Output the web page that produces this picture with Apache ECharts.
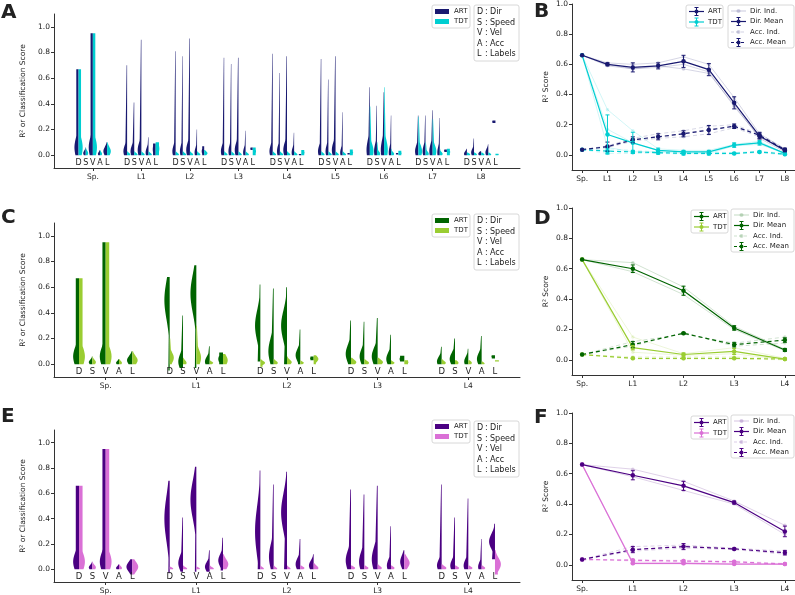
<!DOCTYPE html>
<html><head><meta charset="utf-8">
<script src="https://cdn.jsdelivr.net/npm/echarts/dist/echarts.min.js"></script>
<style>html,body{margin:0;padding:0;background:#fff}#c{width:795px;height:595px}</style>
</head><body><div id="c"></div>
<script>
// ---------------- DATA ----------------
const catsA = ['Sp.','L1','L2','L3','L4','L5','L6','L7','L8'];
const catsCE = ['Sp.','L1','L2','L3','L4'];
const featLetters = ['D','S','V','A','L'];
const yTicks = [0,0.2,0.4,0.6,0.8,1.0];

// half-violin: [lo, hi, peakY, relWidth, spread, floor]
const sm = [0,0.03,0.005,0.8,0.012];
const A_ART = [
 [[0,0.67,0.06,1.0,0.08,0.55],[0,0.06,0.015,0.6,0.02],[0,0.95,0.06,1.0,0.08,0.55],[0,0.04,0.01,0.5,0.015],[0,0.10,0.03,0.9,0.035]],
 [[0,0.70,0.03,0.9,0.05],[0,0.41,0.03,0.9,0.05],[0,0.90,0.04,0.9,0.06],[0,0.14,0.02,0.7,0.04],[0,0.09,0.045,0.7,0.05,0.9]],
 [[0,0.81,0.03,0.8,0.05],[0,0.77,0.03,0.7,0.05],[0,0.91,0.04,0.9,0.06],[0,0.20,0.02,0.6,0.04],[0,0.07,0.03,0.6,0.03,0.8]],
 [[0,0.76,0.03,0.8,0.05],[0,0.71,0.03,0.7,0.05],[0,0.76,0.04,0.9,0.06],[0,0.19,0.02,0.6,0.04],[0.04,0.06,0.05,0.6,0.01,0.9]],
 [[0,0.79,0.03,0.8,0.05],[0,0.64,0.03,0.7,0.05],[0,0.77,0.04,0.9,0.06],[0,0.175,0.02,0.6,0.04],[0,0.01,0.005,0.6,0.01,0.9]],
 [[0,0.75,0.03,0.8,0.05],[0,0.59,0.03,0.7,0.05],[0,0.77,0.04,0.9,0.06],[0,0.335,0.02,0.6,0.04],[0.005,0.017,0.01,0.6,0.01,0.9]],
 [[0,0.53,0.04,0.8,0.08],[0,0.385,0.03,0.7,0.06],[0,0.49,0.04,0.8,0.08],[0,0.31,0.02,0.6,0.05],[0.005,0.017,0.01,0.6,0.01,0.9]],
 [[0,0.31,0.03,0.8,0.05],[0,0.31,0.03,0.7,0.05],[0,0.35,0.03,0.8,0.06],[0,0.29,0.02,0.6,0.05],[0.025,0.045,0.035,0.7,0.01,0.9]],
 [[0,0.05,0.01,0.7,0.02],[0,0.13,0.02,0.7,0.03],[0,0.03,0.01,0.7,0.015],[0,0.085,0.02,0.7,0.03],[0.25,0.27,0.26,0.8,0.01,0.9]]
];
const A_TDT = [
 [[0,0.67,0.06,1.0,0.08,0.6],[0,0.06,0.015,0.6,0.02],[0,0.95,0.06,1.0,0.08,0.6],[0,0.04,0.01,0.5,0.015],[0,0.10,0.03,0.9,0.035]],
 [sm,sm,sm,sm,[0,0.10,0.05,0.9,0.05,0.9]],
 [sm,sm,sm,sm,[0,0.04,0.015,0.8,0.015]],
 [sm,sm,sm,sm,[0,0.06,0.03,0.8,0.03,0.9]],
 [sm,sm,sm,sm,[0,0.04,0.02,0.8,0.02,0.9]],
 [sm,sm,sm,sm,[0,0.045,0.02,0.8,0.02,0.9]],
 [[0,0.38,0.03,0.9,0.06],[0,0.10,0.01,0.8,0.02],[0,0.53,0.04,0.9,0.08],[0,0.05,0.01,0.7,0.015],[0,0.035,0.015,0.8,0.015,0.9]],
 [[0,0.30,0.03,0.9,0.05],[0,0.10,0.01,0.8,0.02],[0,0.28,0.03,0.9,0.05],[0,0.05,0.01,0.7,0.015],[0,0.05,0.025,0.8,0.02,0.9]],
 [[0,0.02,0.005,0.8,0.01],[0,0.02,0.005,0.7,0.01],[0,0.02,0.005,0.8,0.01],[0,0.02,0.005,0.7,0.01],[0,0.012,0.006,0.8,0.01,0.9]]
];
const C_ART = [
 [[0,0.67,0.06,1.0,0.08,0.55],[0,0.06,0.015,0.6,0.02],[0,0.95,0.06,1.0,0.08,0.55],[0,0.04,0.01,0.5,0.015],[0,0.10,0.03,0.9,0.035]],
 [[-0.05,0.68,0.5,0.9,0.15,0.25],[-0.03,0.38,0.02,0.8,0.06],[-0.03,0.77,0.55,1.0,0.15,0.25],[0,0.14,0.02,0.8,0.04],[0,0.09,0.04,0.8,0.04,0.8]],
 [[0.02,0.62,0.3,0.9,0.12],[0,0.59,0.1,0.9,0.1],[0,0.60,0.3,1.0,0.12],[0,0.27,0.07,0.8,0.05],[0.03,0.06,0.045,0.6,0.02,0.9]],
 [[0,0.34,0.08,0.9,0.07],[0,0.33,0.06,0.8,0.06],[0,0.36,0.06,1.0,0.07],[0,0.23,0.04,0.8,0.05],[0.02,0.065,0.04,0.8,0.03,0.9]],
 [[0,0.135,0.02,0.8,0.04],[0,0.20,0.04,0.9,0.05],[0,0.12,0.02,0.7,0.04],[0,0.22,0.04,0.8,0.05],[0.045,0.07,0.06,0.6,0.02,0.9]]
];
const C_TDT = [
 [[0,0.67,0.06,1.0,0.08,0.6],[0,0.06,0.015,0.6,0.02],[0,0.95,0.06,1.0,0.08,0.6],[0,0.04,0.01,0.5,0.015],[0,0.10,0.03,0.9,0.035]],
 [[0,0.20,0.05,0.7,0.04],[0,0.05,0.01,0.6,0.02],[0,0.30,0.05,0.8,0.06],[0,0.03,0.01,0.6,0.01],[0,0.08,0.03,0.8,0.04]],
 [[-0.02,0.04,0.01,0.8,0.015],[0,0.04,0.01,0.7,0.015],[0,0.06,0.015,0.8,0.02],[0,0.03,0.01,0.6,0.01],[0,0.07,0.04,0.8,0.025]],
 [[0,0.05,0.015,0.9,0.02],[0,0.04,0.01,0.8,0.015],[0,0.05,0.015,0.9,0.02],[0,0.03,0.01,0.6,0.01],[0,0.03,0.015,0.7,0.015,0.9]],
 [[0,0.04,0.01,0.7,0.015],[0,0.03,0.01,0.6,0.015],[0,0.03,0.01,0.6,0.015],[0,0.02,0.005,0.5,0.01],[0.02,0.03,0.025,0.7,0.01,0.9]]
];
const E_ART = [
 [[0,0.66,0.06,1.0,0.08,0.55],[0,0.06,0.015,0.6,0.02],[0,0.95,0.06,1.0,0.08,0.55],[0,0.04,0.01,0.5,0.015],[-0.04,0.08,0.02,1.0,0.04,0.2]],
 [[-0.03,0.70,0.4,0.9,0.18,0.25],[-0.02,0.41,0.05,0.8,0.06],[-0.02,0.81,0.55,1.0,0.15,0.25],[-0.02,0.15,0.02,0.8,0.04],[-0.01,0.25,0.07,0.8,0.05]],
 [[0,0.78,0.3,0.9,0.2],[0,0.67,0.1,0.8,0.1],[0,0.77,0.45,1.0,0.15],[0,0.24,0.04,0.8,0.05],[0,0.12,0.03,0.8,0.04]],
 [[0,0.63,0.07,0.9,0.08],[0,0.59,0.06,0.9,0.08],[0,0.66,0.08,1.0,0.1],[0,0.34,0.03,0.7,0.05],[0,0.15,0.06,0.7,0.05]],
 [[0,0.67,0.03,0.8,0.05],[0,0.41,0.03,0.8,0.05],[0,0.56,0.03,0.8,0.05],[0,0.24,0.02,0.6,0.04],[0.08,0.36,0.22,1.0,0.06]]
];
const E_TDT = [
 [[0,0.66,0.06,1.0,0.08,0.6],[0,0.06,0.015,0.6,0.02],[0,0.95,0.06,1.0,0.08,0.6],[0,0.04,0.01,0.5,0.015],[-0.04,0.08,0.02,1.0,0.04,0.2]],
 [[0,0.02,0.005,0.6,0.01],[0,0.03,0.005,0.7,0.012],[0,0.02,0.005,0.6,0.01],[0,0.03,0.005,0.7,0.012],[0,0.12,0.04,0.9,0.04]],
 [[0,0.03,0.005,0.6,0.012],[0,0.03,0.005,0.6,0.012],[0,0.03,0.005,0.6,0.012],[0,0.03,0.01,0.7,0.012],[0,0.05,0.01,0.8,0.02]],
 [[0,0.03,0.01,0.7,0.012],[0,0.03,0.01,0.7,0.012],[0,0.04,0.01,0.7,0.015],[0,0.03,0.01,0.6,0.012],[0,0.12,0.05,0.9,0.04]],
 [[0,0.04,0.01,0.8,0.015],[0,0.03,0.01,0.7,0.012],[0,0.03,0.01,0.7,0.012],[0,0.03,0.01,0.6,0.012],[-0.04,0.15,0.04,1.0,0.05]]
];

// line panels
const B_artDirMean = [0.66,0.60,0.58,0.59,0.62,0.565,0.345,0.125,0.03];
const B_artDirErr  = [0,0.01,0.03,0.02,0.04,0.04,0.04,0.02,0.01];
const B_artAccMean = [0.035,0.055,0.10,0.12,0.14,0.165,0.19,0.13,0.035];
const B_artAccErr  = [0,0.03,0.02,0.02,0.02,0.03,0.015,0.02,0.01];
const B_tdtDirMean = [0.66,0.135,0.08,0.03,0.02,0.02,0.065,0.08,0.01];
const B_tdtDirErr  = [0,0.13,0.07,0.015,0.01,0.01,0.015,0.015,0.005];
const B_tdtAccMean = [0.035,0.025,0.02,0.015,0.01,0.01,0.01,0.02,0.005];
const B_tdtAccErr  = [0,0.015,0.01,0.01,0.01,0.01,0.005,0.005,0.005];
const B_artDirInd = [[0.66,0.59,0.57,0.58,0.60,0.55,0.32,0.12,0.03],[0.66,0.61,0.60,0.61,0.65,0.60,0.38,0.14,0.04],[0.66,0.60,0.57,0.59,0.57,0.54,0.33,0.11,0.02]];
const B_artAccInd = [[0.035,0.05,0.09,0.11,0.12,0.14,0.18,0.12,0.03],[0.035,0.06,0.11,0.14,0.16,0.19,0.20,0.14,0.04],[0.035,0.05,0.10,0.12,0.14,0.17,0.19,0.13,0.03]];
const B_tdtDirInd = [[0.66,0.30,0.16,0.04,0.03,0.03,0.07,0.09,0.01],[0.66,0.17,0.08,0.03,0.02,0.02,0.06,0.08,0.01],[0.66,0.05,0.02,0.02,0.01,0.01,0.06,0.07,0.01]];
const B_tdtAccInd = [[0.035,0.04,0.03,0.02,0.02,0.02,0.015,0.025,0.01],[0.035,0.01,0.01,0.01,0.005,0.005,0.005,0.015,0.0]];

const D_artDirMean = [0.66,0.60,0.455,0.21,0.065];
const D_artDirErr  = [0,0.025,0.03,0.015,0.01];
const D_artAccMean = [0.035,0.10,0.175,0.10,0.13];
const D_artAccErr  = [0,0.02,0.005,0.015,0.015];
const D_tdtDirMean = [0.66,0.08,0.035,0.055,0.005];
const D_tdtDirErr  = [0,0.015,0.01,0.02,0.003];
const D_tdtAccMean = [0.035,0.01,0.01,0.01,0.005];
const D_tdtAccErr  = [0,0.003,0.003,0.003,0.002];
const D_artDirInd = [[0.66,0.64,0.48,0.22,0.07],[0.66,0.58,0.43,0.20,0.06]];
const D_artAccInd = [[0.035,0.12,0.17,0.11,0.15],[0.035,0.09,0.18,0.09,0.11]];
const D_tdtDirInd = [[0.66,0.15,0.04,0.08,0.01],[0.66,0.05,0.03,0.04,0.0]];
const D_tdtAccInd = [[0.035,0.02,0.02,0.02,0.01],[0.035,0.005,0.005,0.005,0.0]];

const F_artDirMean = [0.66,0.59,0.52,0.41,0.22];
const F_artDirErr  = [0,0.03,0.03,0.01,0.035];
const F_artAccMean = [0.035,0.10,0.12,0.105,0.08];
const F_artAccErr  = [0,0.02,0.02,0.005,0.015];
const F_tdtDirMean = [0.66,0.01,0.01,0.005,0.005];
const F_tdtDirErr  = [0,0.005,0.005,0.003,0.003];
const F_tdtAccMean = [0.035,0.03,0.025,0.02,0.005];
const F_tdtAccErr  = [0,0.005,0.005,0.005,0.003];
const F_artDirInd = [[0.66,0.63,0.55,0.42,0.26],[0.66,0.58,0.49,0.40,0.20]];
const F_artAccInd = [[0.035,0.12,0.13,0.11,0.09],[0.035,0.09,0.11,0.10,0.07]];
const F_tdtDirInd = [[0.66,0.02,0.015,0.01,0.005],[0.66,0.005,0.005,0.003,0.003]];
const F_tdtAccInd = [[0.035,0.035,0.03,0.025,0.01],[0.035,0.025,0.02,0.015,0.005]];

// ---------------- STYLE ----------------
const FONT = 'DejaVu Sans';
const TXT = '#222';
const AX = '#333';
const COL = {
  A: {art:'#191970', tdt:'#00CED1'},
  C: {art:'#006400', tdt:'#9ACD32'},
  E: {art:'#4B0082', tdt:'#DA70D6'}
};
const OFF = 0.147; // spacing between features inside a group

const grids = [
  {left:54, top:14, width:466, height:154},   // A
  {left:572, top:3, width:223, height:167},   // B
  {left:54, top:223, width:466, height:154},  // C
  {left:572, top:208, width:223, height:167}, // D
  {left:54, top:430, width:466, height:152},  // E
  {left:572, top:413, width:223, height:167}  // F
];
const xRanges = [[-0.8,8.8],[-0.4,8.4],[-0.57,4.57],[-0.2,4.2],[-0.57,4.57],[-0.2,4.2]];
const xCats = [catsA, catsA, catsCE, catsCE, catsCE, catsCE];
const yRanges = [[-0.1,1.1],[-0.1,1.0],[-0.1,1.1],[-0.1,1.0],[-0.1,1.1],[-0.1,1.0]];
const yNames = ['R² or Classification Score','R² Score','R² or Classification Score','R² Score','R² or Classification Score','R² Score'];

const xAxes = grids.map((g,i)=>{
  const idx = xCats[i].map((c,k)=>k);
  return {type:'value', gridIndex:i, min:xRanges[i][0], max:xRanges[i][1],
    axisLine:{show:true, onZero:false, lineStyle:{color:AX, width:1}},
    axisTick:{show:true, customValues:idx, length:3, lineStyle:{color:AX}},
    axisLabel:{show:true, customValues:idx, formatter:v=>xCats[i][Math.round(v)], fontFamily:FONT, fontSize:7.5, color:TXT, margin:5},
    splitLine:{show:false}};
});
const yAxes = grids.map((g,i)=>({type:'value', gridIndex:i, min:yRanges[i][0], max:yRanges[i][1],
  name:yNames[i], nameLocation:'middle', nameGap:(i%2===0?24:22), nameRotate:90,
  nameTextStyle:{fontFamily:FONT, fontSize:7.5, color:TXT},
  axisLine:{show:true, onZero:false, lineStyle:{color:AX, width:1}},
  axisTick:{show:true, customValues:yTicks, length:3, lineStyle:{color:AX}},
  axisLabel:{show:true, customValues:yTicks, formatter:v=>v.toFixed(1), fontFamily:FONT, fontSize:7.5, color:TXT, margin:4},
  splitLine:{show:false}}));

// ---------------- VIOLINS ----------------
function violinRender(halfW){
  return function(params, api){
    const xc = api.value(0), lo = api.value(1), hi = api.value(2), pk = api.value(3),
          w = api.value(4), s = api.value(5), fl = api.value(6), side = api.value(7);
    const N = 48, pts = [];
    for (let i=0;i<=N;i++){ const y = lo+(hi-lo)*i/N; pts.push(api.coord([xc,y])); }
    for (let i=N;i>=0;i--){
      const y = lo+(hi-lo)*i/N;
      const t = i/N;
      const g = Math.exp(-0.5*Math.pow((y-pk)/s,2));
      const f = fl>=0.55 ? fl : fl*(1-0.75*t);
      const wd = halfW*w*Math.max(g,f);
      pts.push(api.coord([xc+side*wd,y]));
    }
    return {type:'polygon', shape:{points:pts}, style:api.style({stroke:null})};
  };
}
function violinData(arr, side){
  const out = [];
  arr.forEach((grp,gi)=>grp.forEach((v,fi)=>{
    out.push([gi+(fi-2)*OFF, v[0], v[1], v[2], v[3], v[4], v[5]===undefined?0.5:v[5], side]);
  }));
  return out;
}
function violinSeries(gi, arr, side, color, halfW){
  return {type:'custom', xAxisIndex:gi, yAxisIndex:gi, renderItem:violinRender(halfW),
    data:violinData(arr, side), itemStyle:{color:color}, encode:{x:0,y:[1,2]}, silent:true, animation:false, z:3};
}
function letterSeries(gi, nGroups, fs, yv){
  const data = [];
  for (let g=0; g<nGroups; g++) for (let f=0; f<5; f++) data.push([g+(f-2)*OFF, yv, f]);
  return {type:'custom', xAxisIndex:gi, yAxisIndex:gi, data:data, silent:true, animation:false, z:4,
    encode:{x:0,y:1},
    renderItem:(params, api)=>{
      const p = api.coord([api.value(0), api.value(1)]);
      return {type:'text', x:p[0], y:p[1], style:{text:featLetters[api.value(2)], fill:TXT,
        font:fs+'px "DejaVu Sans"', align:'center', verticalAlign:'middle', textAlign:'center', textVerticalAlign:'middle'}};
    }};
}

// ---------------- LINES ----------------
function pairs(ys){ return ys.map((y,i)=>[i,y]); }
function lineS(gi, ys, color, o){
  return {type:'line', xAxisIndex:gi, yAxisIndex:gi, data:pairs(ys), symbol:'circle',
    symbolSize:o.size, showSymbol:true, silent:true, animation:false, z:o.z,
    lineStyle:{color:color, width:o.width, type:o.dash?[4,3]:'solid', opacity:o.op},
    itemStyle:{color:color, opacity:o.op}};
}
function errS(gi, ys, es, color){
  return {type:'custom', xAxisIndex:gi, yAxisIndex:gi, data:ys.map((y,i)=>[i,y,es[i]]),
    silent:true, animation:false, z:6, encode:{x:0,y:1},
    renderItem:(params, api)=>{
      const x = api.value(0), y = api.value(1), e = api.value(2);
      if (e<=0) return null;
      const a = api.coord([x,y-e]), b = api.coord([x,y+e]);
      const st = {stroke:color, lineWidth:1};
      return {type:'group', children:[
        {type:'line', shape:{x1:a[0],y1:a[1],x2:b[0],y2:b[1]}, style:st},
        {type:'line', shape:{x1:a[0]-2,y1:a[1],x2:a[0]+2,y2:a[1]}, style:st},
        {type:'line', shape:{x1:b[0]-2,y1:b[1],x2:b[0]+2,y2:b[1]}, style:st}
      ]};
    }};
}
function linePanel(gi, c, d){
  const s = [];
  const ind = {size:3.5, width:1, op:0.18, z:2};
  d.artDirInd.forEach(r=>s.push(lineS(gi,r,c.art,ind)));
  d.tdtDirInd.forEach(r=>s.push(lineS(gi,r,c.tdt,ind)));
  d.artAccInd.forEach(r=>s.push(lineS(gi,r,c.art,Object.assign({},ind,{dash:true}))));
  d.tdtAccInd.forEach(r=>s.push(lineS(gi,r,c.tdt,Object.assign({},ind,{dash:true}))));
  const mean = {size:4.5, width:1.2, op:1, z:5};
  s.push(lineS(gi,d.tdtAccMean,c.tdt,Object.assign({},mean,{dash:true})));
  s.push(lineS(gi,d.artAccMean,c.art,Object.assign({},mean,{dash:true})));
  s.push(lineS(gi,d.tdtDirMean,c.tdt,mean));
  s.push(lineS(gi,d.artDirMean,c.art,mean));
  s.push(errS(gi,d.tdtAccMean,d.tdtAccErr,c.tdt));
  s.push(errS(gi,d.artAccMean,d.artAccErr,c.art));
  s.push(errS(gi,d.tdtDirMean,d.tdtDirErr,c.tdt));
  s.push(errS(gi,d.artDirMean,d.artDirErr,c.art));
  return s;
}

const series = [];
series.push(violinSeries(0, A_ART, -1, COL.A.art, 0.085));
series.push(violinSeries(0, A_TDT, 1, COL.A.tdt, 0.085));
series.push(letterSeries(0, 9, 8, -0.063));
series.push(violinSeries(2, C_ART, -1, COL.C.art, 0.065));
series.push(violinSeries(2, C_TDT, 1, COL.C.tdt, 0.065));
series.push(letterSeries(2, 5, 8.5, -0.063));
series.push(violinSeries(4, E_ART, -1, COL.E.art, 0.065));
series.push(violinSeries(4, E_TDT, 1, COL.E.tdt, 0.065));
series.push(letterSeries(4, 5, 8.5, -0.06));
series.push(...linePanel(1, COL.A, {artDirMean:B_artDirMean,artDirErr:B_artDirErr,artAccMean:B_artAccMean,artAccErr:B_artAccErr,
  tdtDirMean:B_tdtDirMean,tdtDirErr:B_tdtDirErr,tdtAccMean:B_tdtAccMean,tdtAccErr:B_tdtAccErr,
  artDirInd:B_artDirInd,artAccInd:B_artAccInd,tdtDirInd:B_tdtDirInd,tdtAccInd:B_tdtAccInd}));
series.push(...linePanel(3, COL.C, {artDirMean:D_artDirMean,artDirErr:D_artDirErr,artAccMean:D_artAccMean,artAccErr:D_artAccErr,
  tdtDirMean:D_tdtDirMean,tdtDirErr:D_tdtDirErr,tdtAccMean:D_tdtAccMean,tdtAccErr:D_tdtAccErr,
  artDirInd:D_artDirInd,artAccInd:D_artAccInd,tdtDirInd:D_tdtDirInd,tdtAccInd:D_tdtAccInd}));
series.push(...linePanel(5, COL.E, {artDirMean:F_artDirMean,artDirErr:F_artDirErr,artAccMean:F_artAccMean,artAccErr:F_artAccErr,
  tdtDirMean:F_tdtDirMean,tdtDirErr:F_tdtDirErr,tdtAccMean:F_tdtAccMean,tdtAccErr:F_tdtAccErr,
  artDirInd:F_artDirInd,artAccInd:F_artAccInd,tdtDirInd:F_tdtDirInd,tdtAccInd:F_tdtAccInd}));

// ---------------- LEGENDS / LABELS (graphic) ----------------
const G = [];
function txt(x,y,t,fs,opt){
  G.push({type:'text', x:x, y:y, silent:true, z:20,
    style:{text:t, fill:TXT, font:(opt&&opt.bold?'bold ':'')+fs+'px "DejaVu Sans"', verticalAlign:'middle', align:'left'}});
}
function box(x,y,w,h){
  G.push({type:'rect', shape:{x:x,y:y,width:w,height:h,r:2}, silent:true, z:19,
    style:{fill:'rgba(255,255,255,0.85)', stroke:'#d8d8d8', lineWidth:1}});
}
function violinLegend(c, b1x, b1y, b2y){
  box(b1x, b1y, 38, 23);
  G.push({type:'rect', shape:{x:b1x+3,y:b1y+4,width:14,height:5}, style:{fill:c.art}, silent:true, z:21});
  G.push({type:'rect', shape:{x:b1x+3,y:b1y+14,width:14,height:5}, style:{fill:c.tdt}, silent:true, z:21});
  txt(b1x+22, b1y+6.5, 'ART', 7);
  txt(b1x+22, b1y+16.5, 'TDT', 7);
  box(474, b2y, 45, 56);
  const rows = [['D','Dir'],['S','Speed'],['V','Vel'],['A','Acc'],['L','Labels']];
  rows.forEach((r,i)=>{
    const yy = b2y+7+i*10.5;
    txt(477, yy, r[0], 8); txt(485, yy, ':', 8); txt(490, yy, r[1], 8);
  });
}
violinLegend(COL.A, 432, 5, 5);
violinLegend(COL.C, 432, 214, 214);
violinLegend(COL.E, 432, 420, 421);

function legLine(x1,x2,y,color,op,dash,err){
  G.push({type:'line', shape:{x1:x1,y1:y,x2:x2,y2:y}, silent:true, z:21,
    style:{stroke:color, lineWidth:1.2, opacity:op, lineDash:dash?[3,2]:null}});
  const xm=(x1+x2)/2;
  G.push({type:'circle', shape:{cx:xm,cy:y,r:2}, silent:true, z:21, style:{fill:color, opacity:op}});
  if (err){
    G.push({type:'line', shape:{x1:xm,y1:y-4,x2:xm,y2:y+4}, silent:true, z:21, style:{stroke:color, lineWidth:1}});
    G.push({type:'line', shape:{x1:xm-2,y1:y-4,x2:xm+2,y2:y-4}, silent:true, z:21, style:{stroke:color, lineWidth:1}});
    G.push({type:'line', shape:{x1:xm-2,y1:y+4,x2:xm+2,y2:y+4}, silent:true, z:21, style:{stroke:color, lineWidth:1}});
  }
}
function lineLegend(c, b1x, b1y, b2x, b2y){
  box(b1x, b1y, 37, 23);
  legLine(b1x+3, b1x+18, b1y+6.5, c.art, 1, false, true); txt(b1x+22, b1y+6.5, 'ART', 7);
  legLine(b1x+3, b1x+18, b1y+17, c.tdt, 1, false, true); txt(b1x+22, b1y+17, 'TDT', 7);
  box(b2x, b2y, 795-b2x-1, 43);
  const rows = [['Dir. Ind.',0.2,false,false],['Dir. Mean',1,false,true],['Acc. Ind.',0.2,true,false],['Acc. Mean',1,true,true]];
  rows.forEach((r,i)=>{
    const yy = b2y+6+i*10.5;
    legLine(b2x+3, b2x+18, yy, c.art, r[1], r[2], r[3]);
    txt(b2x+22, yy, r[0], 7);
  });
}
lineLegend(COL.A, 686, 5, 728, 5);
lineLegend(COL.C, 691, 210, 731, 209);
lineLegend(COL.E, 691, 416, 731, 415);

// panel letters
txt(1, 13, 'A', 20, {bold:true});
txt(534, 12, 'B', 20, {bold:true});
txt(1, 218, 'C', 20, {bold:true});
txt(534, 219, 'D', 20, {bold:true});
txt(1, 417, 'E', 20, {bold:true});
txt(534, 418, 'F', 20, {bold:true});

const chart = echarts.init(document.getElementById('c'), null, {renderer:'canvas', width:795, height:595});
chart.setOption({
  animation:false,
  backgroundColor:'#fff',
  textStyle:{fontFamily:FONT},
  grid: grids.map(g=>Object.assign({containLabel:false}, g)),
  xAxis: xAxes,
  yAxis: yAxes,
  series: series,
  graphic: G
});
</script></body></html>
